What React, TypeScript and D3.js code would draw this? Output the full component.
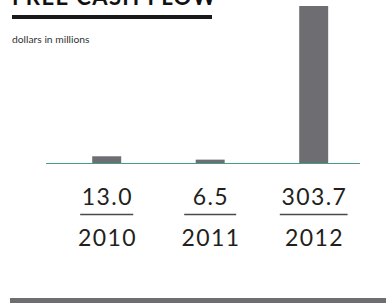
import React, { useEffect, useRef } from 'react';
import * as d3 from 'd3';

const years = ['2010', '2011', '2012'];
const cashFlow = [13.0, 6.5, 303.7];
const valueLabels = ['13.0', '6.5', '303.7'];

const App: React.FC = () => {
  const svgRef = useRef<SVGSVGElement>(null);

  useEffect(() => {
    if (!svgRef.current) return;
    d3.select(svgRef.current).selectAll('*').remove();

    const width = 386;
    const height = 303;
    const font = 'Lato, "DejaVu Sans", sans-serif';
    const textColor = '#231f20';
    const barColor = '#6e6d72';

    const svg = d3.select(svgRef.current)
      .attr('width', width)
      .attr('height', height);

    const x = d3.scaleBand<string>()
      .domain(years)
      .range([17.7, 402.7])
      .padding(0.72);

    const y = d3.scaleLinear()
      .domain([0, 303.7])
      .range([163, 6]);

    // title (cropped at top, as in the source)
    svg.append('text')
      .attr('x', 12)
      .attr('y', 5)
      .attr('font-family', font)
      .attr('font-weight', 'bold')
      .attr('font-size', 22)
      .attr('letter-spacing', 1.4)
      .attr('fill', '#111')
      .text('FREE CASH FLOW');

    svg.append('rect')
      .attr('x', 12).attr('y', 15)
      .attr('width', 200).attr('height', 4)
      .attr('fill', '#1a1a1a');

    svg.append('text')
      .attr('x', 12)
      .attr('y', 43)
      .attr('font-family', font)
      .attr('font-size', 10.3)
      .attr('fill', '#333')
      .text('dollars in millions');

    // bars
    svg.selectAll('rect.bar')
      .data(cashFlow)
      .enter()
      .append('rect')
      .attr('class', 'bar')
      .attr('x', (d, i) => x(years[i])!)
      .attr('y', d => y(d))
      .attr('width', x.bandwidth())
      .attr('height', d => y(0) - y(d))
      .attr('fill', barColor);

    // baseline
    svg.append('line')
      .attr('x1', 46).attr('x2', 360)
      .attr('y1', y(0) + 0.5).attr('y2', y(0) + 0.5)
      .attr('stroke', '#4a9a88')
      .attr('stroke-width', 1);

    const cx = (i: number) => x(years[i])! + x.bandwidth() / 2;

    const vals = svg.selectAll('text.val')
      .data(valueLabels)
      .enter()
      .append('text')
      .attr('class', 'val')
      .attr('x', (d, i) => cx(i) + 0.7)
      .attr('y', 205)
      .attr('text-anchor', 'middle')
      .attr('font-family', font)
      .attr('font-size', 23)
      .attr('letter-spacing', 1.4)
      .attr('fill', textColor)
      .text(d => d);

    const lens: number[] = [];
    vals.each(function () {
      lens.push((this as SVGTextElement).getComputedTextLength());
    });

    svg.selectAll('line.sep')
      .data(valueLabels)
      .enter()
      .append('line')
      .attr('class', 'sep')
      .attr('x1', (d, i) => cx(i) - Math.max(lens[i], 50) / 2 - 1)
      .attr('x2', (d, i) => cx(i) + Math.max(lens[i], 50) / 2 + 1)
      .attr('y1', 214.5).attr('y2', 214.5)
      .attr('stroke', '#4a4a4a')
      .attr('stroke-width', 1.5);

    svg.selectAll('text.year')
      .data(years)
      .enter()
      .append('text')
      .attr('class', 'year')
      .attr('x', (d, i) => cx(i) + 0.7)
      .attr('y', 245.5)
      .attr('text-anchor', 'middle')
      .attr('font-family', font)
      .attr('font-size', 23)
      .attr('letter-spacing', 1.4)
      .attr('fill', textColor)
      .text(d => d);

    // bottom band
    svg.append('rect')
      .attr('x', 10).attr('y', 298)
      .attr('width', 376).attr('height', 5)
      .attr('fill', barColor);
  }, []);

  return (
    <svg ref={svgRef} style={{ position: 'absolute', left: 0, top: 0 }}></svg>
  );
};

export default App;
